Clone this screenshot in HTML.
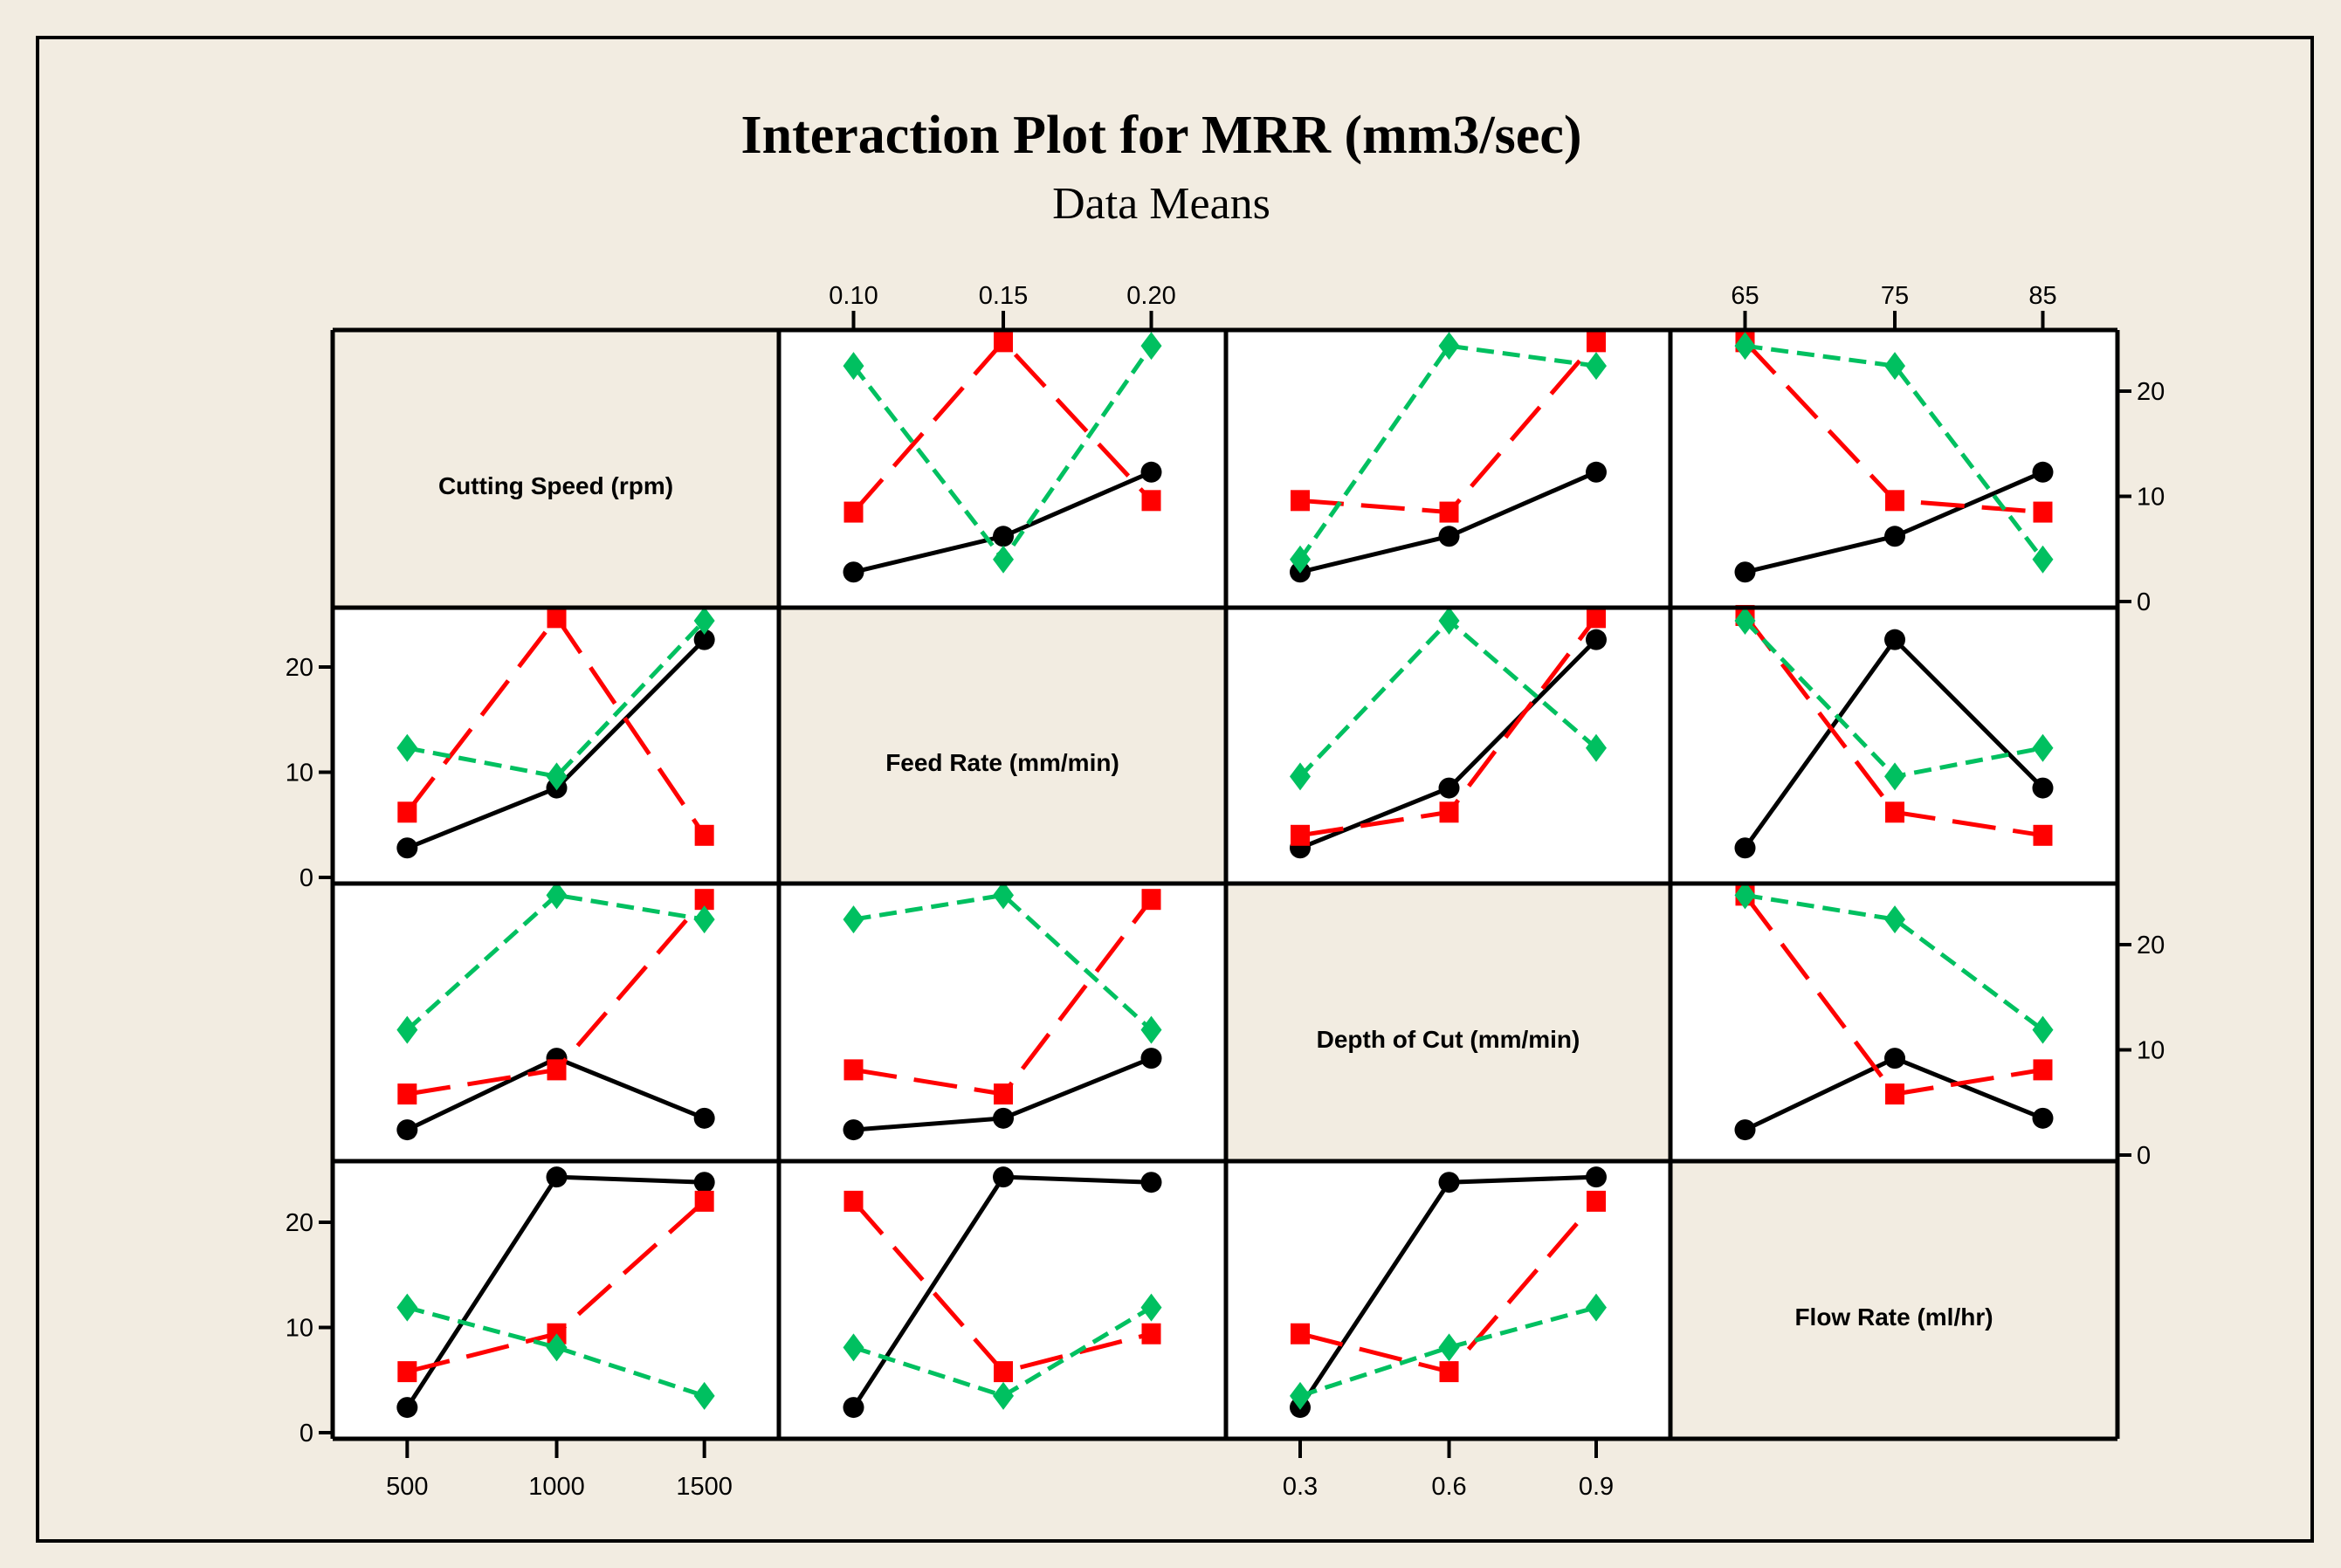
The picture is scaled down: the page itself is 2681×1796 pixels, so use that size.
<!DOCTYPE html>
<html><head><meta charset="utf-8"><style>
html,body{margin:0;padding:0;background:#F2ECE1;}
svg{display:block;}
</style></head><body>
<svg id="chart" width="2681" height="1796" viewBox="0 0 2681 1796" xmlns="http://www.w3.org/2000/svg">
<rect x="0" y="0" width="2681" height="1796" fill="#F2ECE1"/>
<rect x="43" y="43" width="2605" height="1722" fill="none" stroke="#000" stroke-width="4"/>
<text x="1330" y="175" text-anchor="middle" font-family="Liberation Serif, serif" font-weight="bold" font-size="62">Interaction Plot for MRR (mm3/sec)</text>
<text x="1330" y="250" text-anchor="middle" font-family="Liberation Serif, serif" font-size="52">Data Means</text>
<g id="plot"></g>
</svg>
<script>
const factors = ["Cutting Speed (rpm)","Feed Rate (mm/min)","Depth of Cut (mm/min)","Flow Rate (ml/hr)"];
const levelLabels = [["500","1000","1500"],["0.10","0.15","0.20"],["0.3","0.6","0.9"],["65","75","85"]];
const yTicks = [0,10,20];
const blackVals = [
 [null,[2.8,6.2,12.3],[2.8,6.2,12.3],[2.8,6.2,12.3]],
 [[2.8,8.5,22.6],null,[2.8,8.5,22.6],[2.8,22.6,8.5]],
 [[2.4,9.2,3.5],[2.4,3.5,9.2],null,[2.4,9.2,3.5]],
 [[2.4,24.3,23.8],[2.4,24.3,23.8],[2.4,23.8,24.3],null]];
const redVals = [
 [null,[8.5,24.7,9.6],[9.6,8.5,24.7],[24.7,9.6,8.5]],
 [[6.2,24.7,4.0],null,[4.0,6.2,24.7],[24.9,6.2,4.0]],
 [[5.8,8.1,24.3],[8.1,5.8,24.3],null,[24.7,5.8,8.1]],
 [[5.8,9.4,22.0],[22.0,5.8,9.4],[9.4,5.8,22.0],null]];
const greenVals = [
 [null,[22.4,4.0,24.3],[4.0,24.3,22.4],[24.3,22.4,4.0]],
 [[12.3,9.6,24.4],null,[9.6,24.4,12.3],[24.4,9.6,12.3]],
 [[11.9,24.7,22.4],[22.4,24.7,11.9],null,[24.7,22.4,11.9]],
 [[11.9,8.1,3.5],[8.1,3.5,11.9],[3.5,8.1,11.9],null]];

const NS="http://www.w3.org/2000/svg";
const g=document.getElementById('plot');
const xEdges=[381,892,1404,1913,2425];
const yEdges=[378,696,1012,1330,1648];
const unit=12.05;
function px(col,i){const w=xEdges[col+1]-xEdges[col];return xEdges[col]+w*[0.167,0.502,0.833][i];}
function py(row,v){return yEdges[row+1]-7-v*unit;}
function mk(tag,attrs){const e=document.createElementNS(NS,tag);for(const k in attrs)e.setAttribute(k,attrs[k]);g.appendChild(e);return e;}
const font="Liberation Sans, sans-serif";

for(let r=0;r<4;r++)for(let c=0;c<4;c++){
  const p=mk('rect',{x:xEdges[c],y:yEdges[r],width:xEdges[c+1]-xEdges[c],height:yEdges[r+1]-yEdges[r],fill:r===c?'#F2ECE1':'#fff'});
  
  
  if(r===c){
    const t=mk('text',{x:(xEdges[c]+xEdges[c+1])/2,y:(yEdges[r]+yEdges[r+1])/2+29,'text-anchor':'middle','font-family':font,'font-weight':'bold','font-size':28});
    t.textContent=factors[r];
    
    
  }
}
for(let r=0;r<4;r++)for(let c=0;c<4;c++){
  if(r===c)continue;
  const series=[[blackVals,'#000','none','circle'],[redVals,'#FF0000','50 20','square'],[greenVals,'#00C060','20 10','diamond']];
  series.forEach(([arr,col,dash,shape],si)=>{
    const v=arr[r][c];
    const pts=v.map((d,i)=>px(c,i)+','+py(r,d)).join(' ');
    const l=mk('polyline',{points:pts,fill:'none',stroke:col,'stroke-width':5,'stroke-dasharray':dash});
    
    
    v.forEach((d,i)=>{
      const x=px(c,i),y=py(r,d);let m;
      if(shape==='circle')m=mk('circle',{cx:x,cy:y,r:12,fill:col});
      else if(shape==='square')m=mk('rect',{x:x-11,y:y-12,width:22,height:24,fill:col});
      else m=mk('polygon',{points:`${x},${y-16} ${x+12},${y} ${x},${y+16} ${x-12},${y}`,fill:col});
      
      
    });
  });
}
for(const x of xEdges){const l=mk('line',{x1:x,y1:yEdges[0],x2:x,y2:yEdges[4],stroke:'#000','stroke-width':5});}
for(const y of yEdges){const l=mk('line',{x1:xEdges[0],y1:y,x2:xEdges[4],y2:y,stroke:'#000','stroke-width':5});}
[[1,'top'],[3,'top'],[0,'bottom'],[2,'bottom']].forEach(([c,side])=>{
  for(let i=0;i<3;i++){
    const x=px(c,i);
    const y0=side==='top'?yEdges[0]:yEdges[4];
    const y1=side==='top'?y0-22:y0+22;
    const t=mk('line',{x1:x,y1:y0,x2:x,y2:y1,stroke:'#000','stroke-width':4});
    
    
    const tx=mk('text',{x:x,y:side==='top'?y0-30:y0+64,'text-anchor':'middle','font-family':font,'font-size':29});
    tx.textContent=levelLabels[c][i];
    
    
  }
});
[[1,'left'],[3,'left'],[0,'right'],[2,'right']].forEach(([r,side])=>{
  yTicks.forEach(v=>{
    const y=py(r,v);
    const x0=side==='left'?xEdges[0]:xEdges[4];
    const x1=side==='left'?x0-16:x0+16;
    const t=mk('line',{x1:x0,y1:y,x2:x1,y2:y,stroke:'#000','stroke-width':4});
    
    
    const tx=mk('text',{x:side==='left'?x0-22:x0+22,y:y+10,'text-anchor':side==='left'?'end':'start','font-family':font,'font-size':29});
    tx.textContent=v;
    
    
  });
});
</script>
</body></html>
